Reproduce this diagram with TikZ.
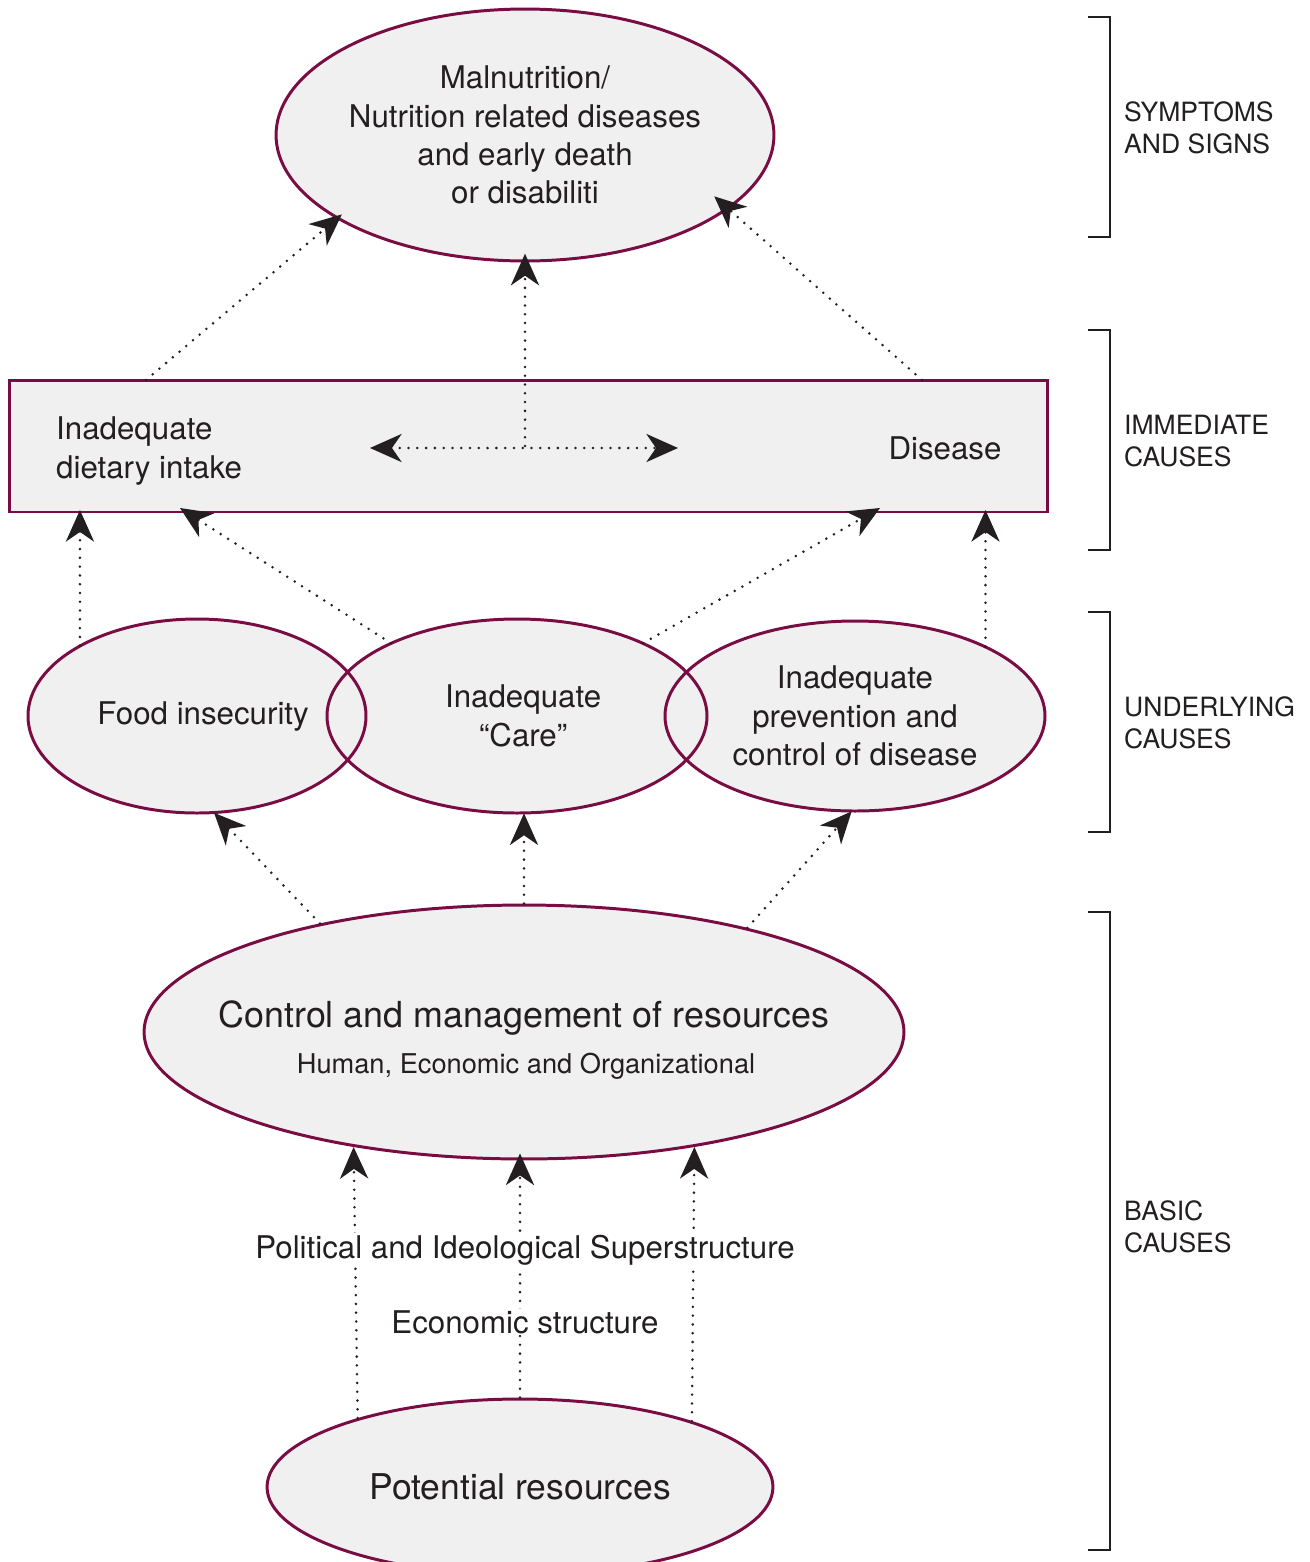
\documentclass[tikz,border=0pt]{standalone}
\usepackage{fontspec}
\setmainfont{TeX Gyre Heros}
\usetikzlibrary{shapes.geometric,arrows.meta}
\definecolor{maroon}{RGB}{122,12,68}
\definecolor{cellgray}{RGB}{240,240,240}
\definecolor{inkgray}{RGB}{35,31,32}
\tikzset{arrowhead/.tip={Stealth[length=18pt,width=16pt,inset=5.5pt]}}

\begin{document}
\begin{tikzpicture}[x=0.02cm,y=-0.02cm,
    every node/.style={text=inkgray,font=\fontsize{17.8}{21.8}\selectfont,align=center},
    cause/.style={ellipse,draw=maroon,fill=cellgray,line width=1.7pt,inner sep=0pt},
    soft/.style={ellipse,fill=cellgray,inner sep=0pt},
    rim/.style={draw=maroon,line width=1.7pt},
    link/.style={draw=inkgray,line width=1.6pt,line cap=round,dash pattern=on 0pt off 5pt,-arrowhead},
    level/.style={draw=inkgray,line width=0.9pt},
    tag/.style={anchor=west,align=left,font=\fontsize{15.1}{18.1}\selectfont}]
      \useasboundingbox (0,0) rectangle (1309,1562);
      \draw
        (525,135) node[cause,minimum width=9.8cm,minimum height=5.04cm] (outcome)
          {Malnutrition/\\Nutrition related diseases\\and early death\\or disabiliti}
        (528.5,446) node[rim,fill=cellgray,minimum width=20.78cm,minimum height=2.64cm,inner sep=0pt] (immediate) {}
        (50,451) node[anchor=west,align=left] (intake) {Inadequate\\dietary intake}
        (945,448) node (disease) {Disease}
        (197,716) node[soft,minimum width=6.76cm,minimum height=3.88cm] (food) {\hspace{7pt}Food insecurity}
        (517,716) node[soft,minimum width=7.6cm,minimum height=3.88cm] (care) {\hspace{7pt}Inadequate\\\hspace{7pt}“Care”}
        (855,716) node[soft,minimum width=7.6cm,minimum height=3.8cm] (prevent)
          {Inadequate\\prevention and\\control of disease}
        (524,1032) node[cause,minimum width=15.2cm,minimum height=5.08cm] (control) {}
        (524,1018) node[font=\fontsize{20.4}{24}\selectfont] (controltitle) {Control and management of resources}
        (526,1066) node[font=\fontsize{15.5}{18}\selectfont] (controlsub) {Human, Economic and Organizational}
        (520,1487) node[cause,minimum width=10.12cm,minimum height=3.52cm,font=\fontsize{20.2}{24}\selectfont] (potential)
          {Potential resources};
      % outlines of the overlapping ellipses
      \foreach \n/\rx/\ry in {food/169/97,care/190/97,prevent/190/95}
        \draw[rim] (\n.center) ellipse[x radius=\rx,y radius=\ry];
      \coordinate (intakeup) at (146,380);
      \coordinate (diseaseup) at (922,380);
      \coordinate (swapleft) at (370,448);
      \coordinate (swapright) at (678,448);
      \coordinate (carein) at (180,508);
      \coordinate (carepre) at (880,508);
      \begin{scope}[link]
        \draw[shorten >=-4pt] (intakeup) to (outcome.204);
        \draw[shorten >=-5pt] (outcome.south |- immediate.center) to (outcome.south);
        \draw[shorten >=-11pt] (diseaseup) to (outcome.340);
        \draw[arrowhead-arrowhead] (swapleft) to (swapright);
        \draw[shorten >=-2pt] (food.149) to (food.149 |- immediate.south);
        \draw (care.150) to (carein);
        \draw (care.30) to (carepre);
        \draw[shorten >=-2pt] (prevent.28) to (prevent.28 |- immediate.south);
        \draw (control.152) to (food.280);
        \draw (control.north) to (control.north |- care.south);
        \draw (control.25) to (prevent.268);
        \draw (potential.157) to (control.214.5);
        \draw[shorten >=-4pt] (potential.north) to (potential.north |- control.south);
        \draw (potential.21) to (control.326);
      \end{scope}
      \draw
        (525,1250) node[fill=white,inner sep=1pt] (politics) {Political and Ideological Superstructure}
        (525,1322) node[fill=white,inner sep=1pt] (economy) {Economic structure};
      % levels on the right
      \foreach \a/\b in {17/237,330/550,612/832,912/1550}
        \draw[level] (1088,\a) -| (1110,\b) -- (1088,\b);
      \draw
        (1118,128) node[tag] (symptoms) {SYMPTOMS\\AND SIGNS}
        (1118,441) node[tag] (immediatetag) {IMMEDIATE\\CAUSES}
        (1118,723) node[tag] (underlyingtag) {UNDERLYING\\CAUSES}
        (1118,1227) node[tag] (basictag) {BASIC\\CAUSES};
    \end{tikzpicture}
\end{document}
